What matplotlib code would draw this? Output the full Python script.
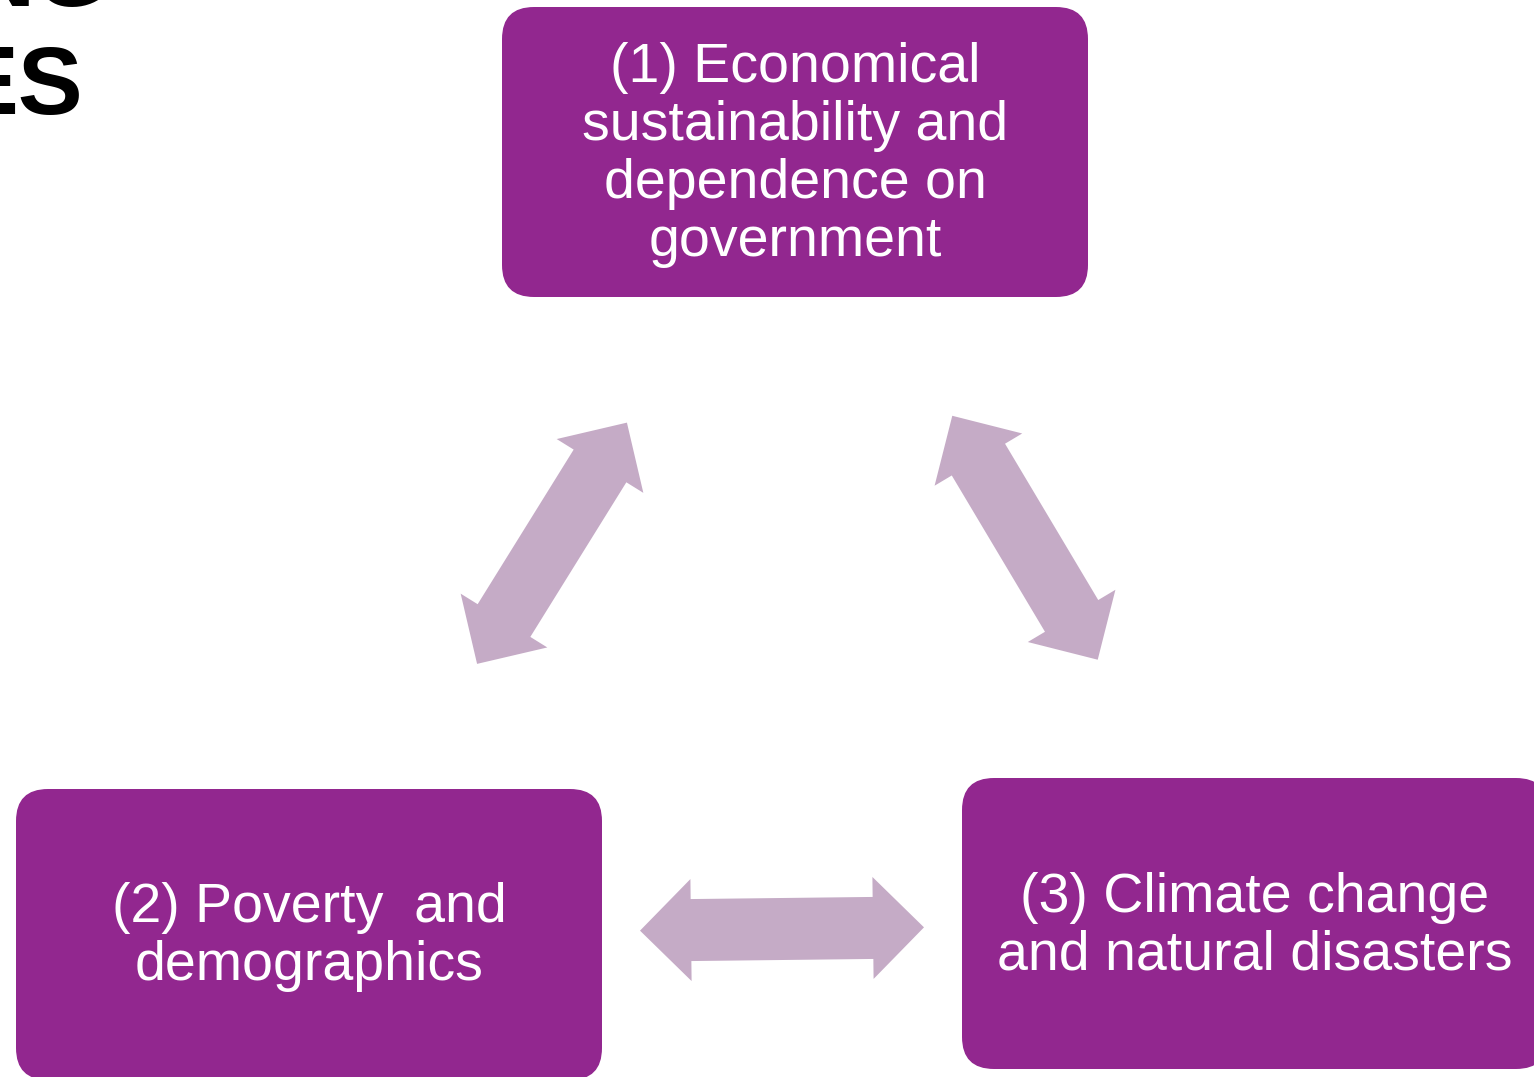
import numpy as np
import matplotlib.pyplot as plt
from matplotlib.patches import FancyBboxPatch, Polygon

plt.rcParams['font.family'] = ['Liberation Sans', 'DejaVu Sans']

# contenido del diagrama
etiquetas = [
    ["(1) Economical", "sustainability and", "dependence on", "government"],
    ["(2) Poverty  and", "demographics"],
    ["(3) Climate change", "and natural disasters"],
]
enlaces = [(1, 0), (0, 2), (1, 2)]
titulo_lineas = ["NG", "ES"]

# geometria (pixeles, y hacia abajo)
cajas = [(502, 7, 586, 290), (16, 789, 586, 291), (962, 778, 586, 291)]
color_caja = '#92278F'
color_flecha = '#C5ABC6'
interlinea = 58
largo_flecha = 284
medio_cuerpo = 31
media_cabeza = 51
largo_cabeza = 51


def flecha_doble(c, u):
    n = np.array([-u[1], u[0]])
    L = largo_flecha / 2
    b = L - largo_cabeza
    pts = [c + L * u,
           c + b * u + media_cabeza * n,
           c + b * u + medio_cuerpo * n,
           c - b * u + medio_cuerpo * n,
           c - b * u + media_cabeza * n,
           c - L * u,
           c - b * u - media_cabeza * n,
           c - b * u - medio_cuerpo * n,
           c + b * u - medio_cuerpo * n,
           c + b * u - media_cabeza * n]
    return np.array(pts)


fig = plt.figure(figsize=(15.34, 10.77), dpi=100)
ax = fig.add_axes([0, 0, 1, 1])
ax.set_xlim(0, 1534)
ax.set_ylim(1077, 0)
ax.axis('off')

centros = []
for (x0, y0, w, h), lineas in zip(cajas, etiquetas):
    ax.add_patch(FancyBboxPatch((x0, y0), w, h,
                                boxstyle="round,pad=0,rounding_size=32",
                                fc=color_caja, ec='none'))
    cx, cy = x0 + w / 2, y0 + h / 2
    centros.append(np.array([cx, cy]))
    n = len(lineas)
    for i, txt in enumerate(lineas):
        yb = cy + (i - (n - 1) / 2) * interlinea + 17
        ax.text(cx, yb, txt, color='white', fontsize=40,
                ha='center', va='baseline')

for a, b in enlaces:
    pa, pb = centros[a], centros[b]
    u = (pb - pa) / np.linalg.norm(pb - pa)
    ax.add_patch(Polygon(flecha_doble((pa + pb) / 2, u), closed=True,
                         fc=color_flecha, ec='none'))

# titulo recortado en la esquina
ax.text(110, 6, titulo_lineas[0], fontsize=70, fontweight='bold',
        ha='right', va='baseline', color='black')
ax.text(83, 114, titulo_lineas[1], fontsize=70, fontweight='bold',
        ha='right', va='baseline', color='black')

fig.savefig('out.png', dpi=100)
